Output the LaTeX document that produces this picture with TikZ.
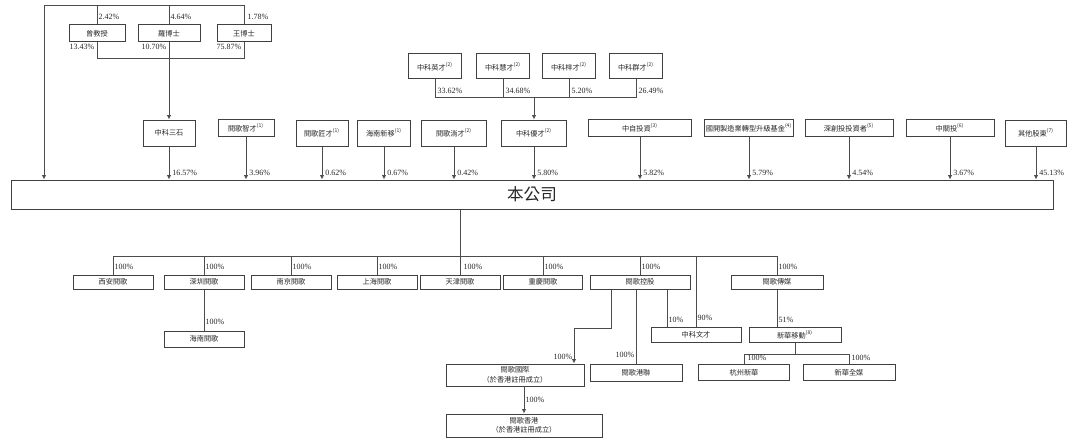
\documentclass[tikz,border=0pt]{standalone}
\usepackage{fontspec}
\setmainfont{Liberation Serif}
\newfontfamily\cjk{Noto Sans CJK TC}
\usetikzlibrary{positioning,arrows.meta}
\tikzset{
  box/.style={draw=black!75, line width=0.5pt, inner sep=0pt, align=center,
    text=black!85, font=\cjk\fontsize{3.6}{4.8}\selectfont},
  pct/.style={font=\fontsize{4}{4.5}\selectfont, inner sep=0.6pt, text=black!85},
  tip/.style={pct, pos=1, anchor=south west, xshift=0.8pt, yshift=1pt},
  link/.style={draw=black!70, line width=0.45pt},
  arr/.style={link, -{Latex[length=2.2pt,width=2.2pt]}},
}
\newcommand{\nt}[1]{\textsuperscript{(#1)}}

\begin{document}
\begin{tikzpicture}[x=0.5pt,y=-0.5pt]
    \useasboundingbox (0,0) rectangle (1080,444);

    % founders
    \node[box, minimum width=28pt, minimum height=8.5pt] (zeng) at (97,33.5) {曾教授};
    \node[box, minimum width=31pt, minimum height=8.5pt] (luo) at (169,33.5) {羅博士};
    \node[box, minimum width=27pt, minimum height=8.5pt] (wang) at (244,33.5) {王博士};
    \coordinate (topL) at (44,5);
    \coordinate (midF) at (169,58);

    % shareholders
    \node[box, minimum width=26pt, minimum height=13pt] (zkss) at (169,133) {中科三石};
    \node[box, minimum width=28pt, minimum height=8.5pt] (ygzc) at (246,128) {閱歌智才\nt{1}};
    \node[box, minimum width=26pt, minimum height=13pt] (ygjc) at (322,133) {閱歌匠才\nt{1}};
    \node[box, minimum width=26.5pt, minimum height=13pt] (hnxy) at (384,133) {海南新移\nt{1}};
    \node[box, minimum width=32.5pt, minimum height=13pt] (ygtc) at (454,133) {閱歌淌才\nt{2}};
    \node[box, minimum width=32.5pt, minimum height=13pt] (zkyc) at (534,133) {中科優才\nt{2}};
    \node[box, minimum width=51.5pt, minimum height=8.5pt] (zztz) at (640,128) {中自投資\nt{3}};
    \node[box, minimum width=44.5pt, minimum height=8.5pt] (gkjj) at (749,128) {國開製造業轉型升級基金\nt{4}};
    \node[box, minimum width=44pt, minimum height=8.5pt] (sctz) at (849,128) {深創投投資者\nt{5}};
    \node[box, minimum width=44pt, minimum height=8.5pt] (zgt) at (950,128) {中關投\nt{6}};
    \node[box, minimum width=30.5pt, minimum height=13pt] (qtgd) at (1036,133) {其他股東\nt{7}};

    % partners of zkyc
    \node[box, minimum width=26.5pt, minimum height=12.5pt] (zkying) at (435,66.5) {中科英才\nt{2}};
    \node[box, minimum width=26.5pt, minimum height=12.5pt] (zkhui) at (503,66.5) {中科慧才\nt{2}};
    \node[box, minimum width=26.5pt, minimum height=12.5pt] (zkzi) at (569,66.5) {中科梓才\nt{2}};
    \node[box, minimum width=26.5pt, minimum height=12.5pt] (zkqun) at (636,66.5) {中科群才\nt{2}};
    \coordinate (midP) at (534,97);

    % company
    \node[box, minimum width=521pt, minimum height=14.5pt, font=\cjk\fontsize{8.3}{9}\selectfont] (main) at (532,194.5) {本公司};

    % subsidiaries
    \node[box, minimum width=40pt, minimum height=7pt] (xa) at (113,282) {西安閱歌};
    \node[box, minimum width=40pt, minimum height=7pt] (sz) at (204,282) {深圳閱歌};
    \node[box, minimum width=40pt, minimum height=7pt] (nj) at (291,282) {南京閱歌};
    \node[box, minimum width=40pt, minimum height=7pt] (sh) at (377,282) {上海閱歌};
    \node[box, minimum width=40pt, minimum height=7pt] (tj) at (460,282) {天津閱歌};
    \node[box, minimum width=39.5pt, minimum height=7pt] (cq) at (543,282) {重慶閱歌};
    \node[box, minimum width=50pt, minimum height=7pt] (kg) at (640,282) {閱歌控股};
    \node[box, minimum width=46pt, minimum height=7pt] (cm) at (777,282) {閱歌傳媒};
    \coordinate (busL) at (113,256);
    \coordinate (busR) at (777,256);

    \node[box, minimum width=40pt, minimum height=8pt] (hn) at (204,339) {海南閱歌};
    \node[box, minimum width=45pt, minimum height=7.5pt] (zkwc) at (696,334.5) {中科文才};
    \node[box, minimum width=46pt, minimum height=7.5pt] (xhyd) at (795,334.5) {新華移動\nt{8}};
    \node[box, minimum width=45.5pt, minimum height=8pt] (hzxh) at (744,372.5) {杭州新華};
    \node[box, minimum width=46pt, minimum height=8pt] (xhqm) at (849,372.5) {新華全媒};
    \coordinate (xhbus) at (795,354);

    \node[box, minimum width=69pt, minimum height=11pt] (gj) at (515,375) {閱歌國際\\（於香港註冊成立）};
    \node[box, minimum width=46pt, minimum height=8.5pt] (gl) at (636,372.5) {閱歌港聯};
    \node[box, minimum width=78pt, minimum height=11.5pt] (hk) at (524,425.5) {閱歌香港\\（於香港註冊成立）};
    \coordinate (k1) at (611,328);
    \coordinate (k2) at (574,328);

    % founders to zkss
    \draw[link] (wang.north) |- (topL);
    \draw[link] (luo.north) -- (luo.north |- topL) node[pct, anchor=west, pos=0.4] {4.64\%};
    \draw[link] (zeng.north) -- (zeng.north |- topL) node[pct, anchor=west, pos=0.4] {2.42\%};
    \node[pct, anchor=west] at (246,17) {1.78\%};
    \draw[arr] (topL) -- (topL |- main.north);
    \draw[link] (zeng.south) |- (wang.south |- midF) -- (wang.south);
    \draw[arr] (luo.south) -- (zkss.north);
    \node[pct, anchor=east] at (96,47) {13.43\%};
    \node[pct, anchor=east] at (168,47) {10.70\%};
    \node[pct, anchor=east] at (243,47) {75.87\%};

    % partners to zkyc
    \draw[link] (zkying.south) |- (zkqun.south |- midP) -- (zkqun.south);
    \draw[link] (zkhui.south) -- (zkhui.south |- midP);
    \draw[link] (zkzi.south) -- (zkzi.south |- midP);
    \draw[arr] (midP) -- (zkyc.north);
    \node[pct, anchor=west] at (436,91) {33.62\%};
    \node[pct, anchor=west] at (504,91) {34.68\%};
    \node[pct, anchor=west] at (570,91) {5.20\%};
    \node[pct, anchor=west] at (637,91) {26.49\%};

    % shareholders to company
    \draw[arr] (zkss.south) -- (zkss.south |- main.north) node[tip] {16.57\%};
    \draw[arr] (ygzc.south) -- (ygzc.south |- main.north) node[tip] {3.96\%};
    \draw[arr] (ygjc.south) -- (ygjc.south |- main.north) node[tip] {0.62\%};
    \draw[arr] (hnxy.south) -- (hnxy.south |- main.north) node[tip] {0.67\%};
    \draw[arr] (ygtc.south) -- (ygtc.south |- main.north) node[tip] {0.42\%};
    \draw[arr] (zkyc.south) -- (zkyc.south |- main.north) node[tip] {5.80\%};
    \draw[arr] (zztz.south) -- (zztz.south |- main.north) node[tip] {5.82\%};
    \draw[arr] (gkjj.south) -- (gkjj.south |- main.north) node[tip] {5.79\%};
    \draw[arr] (sctz.south) -- (sctz.south |- main.north) node[tip] {4.54\%};
    \draw[arr] (zgt.south) -- (zgt.south |- main.north) node[tip] {3.67\%};
    \draw[arr] (qtgd.south) -- (qtgd.south |- main.north) node[tip] {45.13\%};

    % company to subsidiaries
    \draw[link] (tj.north |- main.south) -- (tj.north);
    \draw[link] (busL) -- (busR);
    \draw[link] (busL) -- (xa.north) node[pct, pos=0.6, right] {100\%};
    \draw[link] (sz.north |- busL) -- (sz.north) node[pct, pos=0.6, right] {100\%};
    \draw[link] (nj.north |- busL) -- (nj.north) node[pct, pos=0.6, right] {100\%};
    \draw[link] (sh.north |- busL) -- (sh.north) node[pct, pos=0.6, right] {100\%};
    \node[pct, anchor=west] at (462,267) {100\%};
    \draw[link] (cq.north |- busL) -- (cq.north) node[pct, pos=0.6, right] {100\%};
    \draw[link] (kg.north |- busL) -- (kg.north) node[pct, pos=0.6, right] {100\%};
    \draw[link] (busR) -- (cm.north) node[pct, pos=0.6, right] {100\%};
    \draw[link] (sz.south) -- (hn.north) node[pct, pos=0.8, right] {100\%};

    % second level
    \draw[link] (zkwc.north |- busL) -- (zkwc.north) node[pct, pos=0.88, right] {90\%};
    \draw[link] ([xshift=13.5pt]kg.south) -- ([xshift=13.5pt]kg.south |- zkwc.north) node[pct, pos=0.82, right] {10\%};
    \draw[link] (cm.south) -- (cm.south |- xhyd.north) node[pct, pos=0.82, right] {51\%};
    \draw[link] (xhyd.south) -- (xhbus);
    \draw[link] (hzxh.north) |- (xhqm.north |- xhbus) -- (xhqm.north);
    \node[pct, anchor=west] at (746,358) {100\%};
    \node[pct, anchor=west] at (850,358) {100\%};
    \draw[arr] (k1 |- kg.south) -- (k1) -- (k2) -- (k2 |- gj.north) node[pct, pos=0.82, left] {100\%};
    \draw[link] (gl.north |- kg.south) -- (gl.north) node[pct, pos=0.88, left] {100\%};
    \draw[arr] (hk.north |- gj.south) -- (hk.north) node[pct, pos=0.5, right] {100\%};
\end{tikzpicture}
\end{document}
